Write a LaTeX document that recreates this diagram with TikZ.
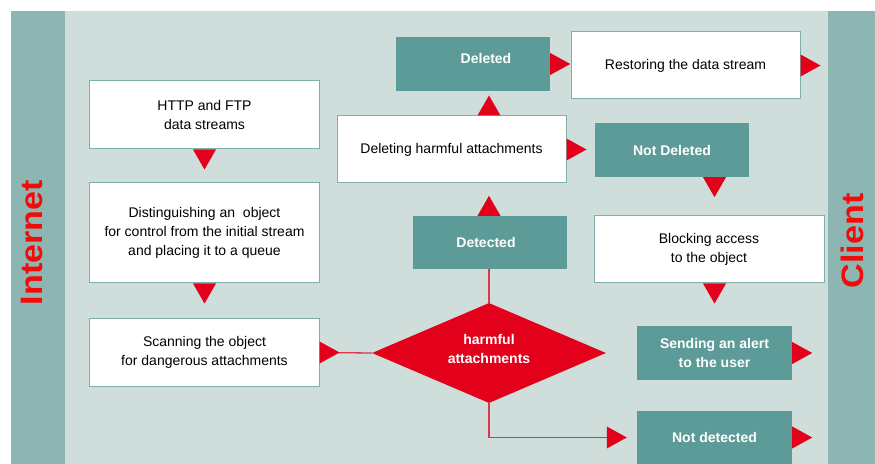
\documentclass[tikz,border=0pt]{standalone}
\usepackage{fontspec}
\setmainfont{Liberation Sans}
\usetikzlibrary{shapes.geometric}
\definecolor{bgl}{HTML}{CFDEDB}
\definecolor{band}{HTML}{8DB5B1}
\definecolor{teal1}{HTML}{5C9B97}
\definecolor{ared}{HTML}{E2001A}
\definecolor{lred}{HTML}{F50A0A}
\definecolor{bord}{HTML}{7FAFAA}
\definecolor{linered}{HTML}{D9384E}
\tikzset{
  wbox/.style={draw=bord, line width=1bp, fill=white, align=center, inner sep=0pt,
    font=\fontsize{14bp}{19bp}\selectfont},
  tbox/.style={fill=teal1, text=white, align=center, inner sep=0pt,
    font=\fontsize{14bp}{19bp}\selectfont\bfseries},
  sidelbl/.style={text=lred, rotate=90, xscale=1.1, anchor=base, inner sep=0pt,
    font=\fontsize{31bp}{31bp}\selectfont\bfseries},
  conn/.style={color=linered, line width=1.3bp},
  tdown/.pic={\fill[ared] (-11.5,0) -- (11.5,0) -- (0,20) -- cycle;},
  tup/.pic={\fill[ared] (-11.5,0) -- (11.5,0) -- (0,-20) -- cycle;},
  tright/.pic={\fill[ared] (0,-11) -- (0,11) -- (20,0) -- cycle;}
}
\begin{document}
\begin{tikzpicture}[x=1bp,y=-1bp]
\useasboundingbox (0,0) rectangle (875,464);
\fill[bgl] (11,11) rectangle (875,464);
\fill[band] (11,11) rectangle (65,464);
\fill[band] (828,11) rectangle (875,464);

\node[sidelbl] (inet) at (42,242.5) {Internet};
\node[sidelbl] (client) at (863,241) {Client};

\node[wbox, minimum width=229bp, minimum height=68bp] (http) at (204.5,115) {HTTP and FTP\\data streams};
\node[wbox, minimum width=229bp, minimum height=100bp] (dist) at (204.5,233) {Distinguishing an\ \ object\\for control from the initial stream\\and placing it to a queue};
\node[wbox, minimum width=229bp, minimum height=67bp] (scan) at (204.5,352.5) {Scanning the object\\for dangerous attachments};
\node[wbox, minimum width=229bp, minimum height=67bp] (deleting) at (451.5,149.5) {Deleting harmful attachments};
\node[tbox, minimum width=154bp, minimum height=54bp, text height=10bp, text depth=10bp] (deleted) at (473,64) {\hspace*{26bp}Deleted};
\node[wbox, minimum width=229bp, minimum height=67bp] (restore) at (685.5,65.5) {Restoring the data stream};
\node[tbox, minimum width=154bp, minimum height=54bp] (notdel) at (672,150) {Not Deleted};
\node[tbox, minimum width=154bp, minimum height=53bp] (det) at (490,242.5) {Detected\hspace*{8bp}};
\node[wbox, minimum width=230bp, minimum height=67bp] (block) at (709,249.5) {Blocking access\\to the object};
\node[tbox, minimum width=155bp, minimum height=54bp] (send) at (714.5,353) {Sending an alert\\to the user};
\node[tbox, minimum width=155bp, minimum height=53bp] (notdet) at (714.5,437.5) {Not detected};
\node[diamond, fill=ared, inner sep=0pt, shape aspect=2.34,
  minimum width=234bp, minimum height=100bp] (dia) at (489,353) {};
\node[text=white, align=center, inner sep=0pt,
  font=\fontsize{14bp}{19bp}\selectfont\bfseries] (diatext) at ([yshift=4.5bp]dia.center)
  {harmful\\attachments};

\coordinate (ndtip) at ([xshift=-30bp]notdet.west);
\draw[conn] (scan.east) -- (dia.west);
\draw[conn] (dia.north) -- (dia.north |- det.south);
\draw[conn] (dia.south) |- (ndtip);

\pic at (http.south) {tdown};
\pic at (dist.south) {tdown};
\pic at (scan.east) {tright};
\pic at (dia.north |- det.north) {tup};
\pic at (dia.north |- deleting.north) {tup};
\pic at (deleted.east) {tright};
\pic at (restore.east) {tright};
\pic at (deleting.east) {tright};
\pic at (send.north |- notdel.south) {tdown};
\pic at (send.north |- block.south) {tdown};
\pic at (send.east) {tright};
\pic at (notdet.east) {tright};
\pic at (ndtip) {tright};
\end{tikzpicture}
\end{document}
